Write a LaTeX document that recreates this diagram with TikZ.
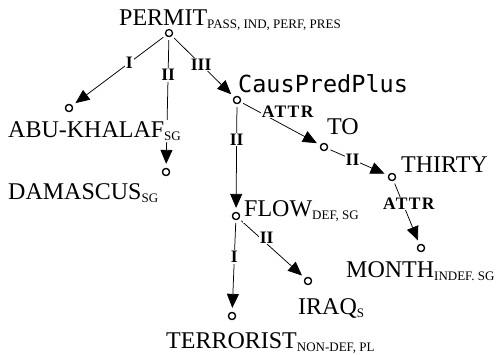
\documentclass[tikz,border=0pt]{standalone}
\usepackage{fontspec}
\setmainfont{Liberation Serif}
\newfontfamily\monof{DejaVu Sans Mono}
\usetikzlibrary{arrows.meta}
\newcommand\sbs[1]{\raisebox{-3.5pt}{\fontsize{13}{13}\selectfont #1}}
\newcommand\spaced[1]{{\addfontfeature{LetterSpace=8}#1}}
\begin{document}
\begin{tikzpicture}[x=1pt,y=-1pt,
  dot/.style={circle,draw,line width=1.2pt,fill=white,inner sep=0pt,minimum size=7pt},
  edge/.style={line width=0.75pt,-{Triangle[length=14pt,width=12pt]},shorten <=3pt,shorten >=4pt},
  lbl/.style={fill=white,inner sep=1pt,font=\fontsize{17.5}{17.5}\selectfont\bfseries},
  word/.style={anchor=base west,inner sep=1pt,fill=white,font=\fontsize{24}{24}\selectfont},
  mono/.style={anchor=base west,inner sep=1pt,font=\fontsize{23.5}{23.5}\selectfont\monof},
]
\useasboundingbox (0,0) rectangle (498,354);
% dots
\node[dot] (permit) at (169,33) {};
\node[dot] (abu) at (69,108) {};
\node[dot] (dam) at (166,172) {};
\node[dot] (caus) at (237,100) {};
\node[dot] (to) at (324,147) {};
\node[dot] (thirty) at (392,177) {};
\node[dot] (month) at (421,248) {};
\node[dot] (flow) at (236,216) {};
\node[dot] (iraq) at (308,281) {};
\node[dot] (terr) at (232,316) {};
% edges
\draw[edge] (permit) -- node[lbl,pos=.39] {I} (abu);
\draw[edge] (permit) -- node[lbl,pos=.29] {II} (dam);
\draw[edge] (permit) -- node[lbl,pos=.47] {III} (caus);
\draw[edge] (caus) -- node[lbl,pos=.59,yshift=16pt] {\spaced{ATTR}} (to);
\draw[edge] (caus) -- node[lbl,pos=.33] {II} (flow);
\draw[edge] (to) -- node[lbl,pos=.41] {II} (thirty);
\draw[edge] (thirty) -- node[lbl,pos=.36,xshift=6pt] {\spaced{ATTR}} (month);
\draw[edge] (flow) -- node[lbl,pos=.42,yshift=6pt] {II} (iraq);
\draw[edge] (flow) -- node[lbl,pos=.40] {I} (terr);
% words
\node[word] (permitT) at (118,25) {PERMIT\sbs{PASS, IND, PERF, PRES}};
\node[word] (abuT) at (7,137) {ABU-KHALAF\sbs{SG}};
\node[word] (damT) at (7,199) {DAMASCUS\sbs{SG}};
\node[mono] (causT) at (237,92) {CausPredPlus};
\node[word] (toT) at (326,134) {TO};
\node[word] (thirtyT) at (400,172) {THIRTY};
\node[word] (monthT) at (345,277) {MONTH\sbs{INDEF. SG}};
\node[word] (flowT) at (243,216) {FLOW\sbs{DEF, SG}};
\node[word] (iraqT) at (297,314) {IRAQ\sbs{S}};
\node[word] (terrT) at (165,348) {TERRORIST\sbs{NON-DEF, PL}};
% dots on top
\foreach \d in {permit,abu,dam,caus,to,thirty,month,flow,iraq,terr}
  \node[dot] at (\d) {};
\end{tikzpicture}
\end{document}
